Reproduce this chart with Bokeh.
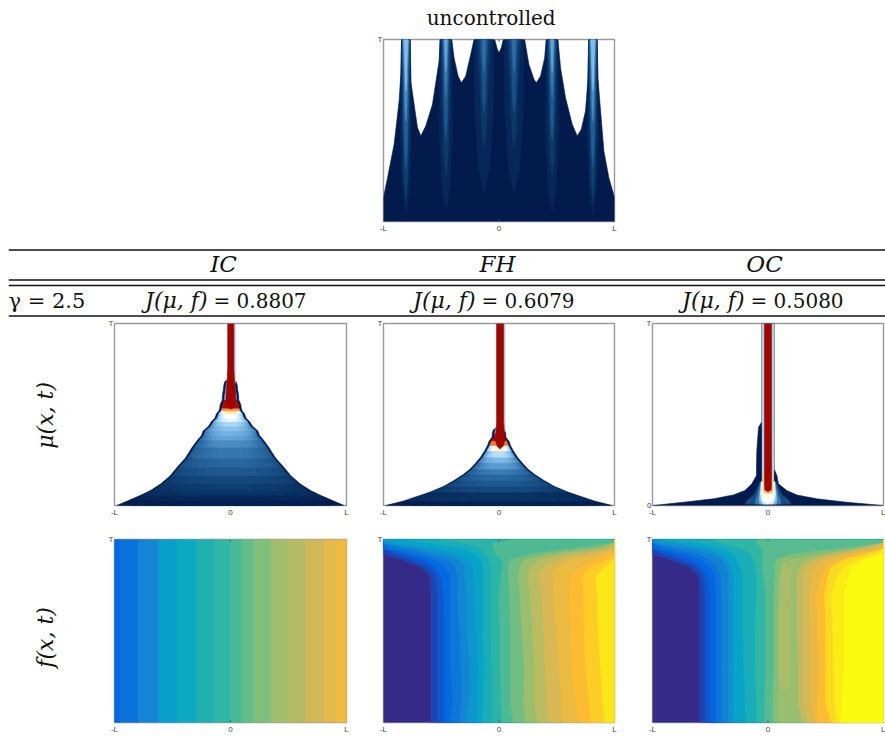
import numpy as np
from bokeh.core.properties import value
from bokeh.embed import file_html
from bokeh.layouts import column, row
from bokeh.models import ColumnDataSource, FixedTicker, LinearColorMapper, Range1d, Spacer
from bokeh.plotting import figure
from bokeh.resources import INLINE

# ---------- text ----------
TITLE = "uncontrolled"
METHODS = ["IC", "FH", "OC"]
COSTS = ["0.8807", "0.6079", "0.5080"]
GAMMA = "γ = 2.5"
X_TICKS = [-1, 0, 1]
X_LABELS = ["-L", "0", "L"]

# ---------- uncontrolled density: envelope and flames ----------
ENV_X = [-1,-1,-.965,-.908,-.865,-.85,-.844,-.769,-.764,-.735,-.706,-.677,-.634,-.576,-.519,-.51,-.409,-.389,-.354,-.326,-.288,-.245,-.216,-.037,-.014,0,.02,.037,.222,.259,.303,.323,.36,.395,.409,.51,.533,.576,.634,.677,.712,.749,.769,.778,.85,.856,.908,.951,1,1]
ENV_Y = [0,.132,.241,.424,.662,.808,1,1,.771,.644,.516,.47,.525,.644,.881,1,1,.899,.799,.762,.799,.918,1,1,.945,.927,.954,1,1,.863,.781,.762,.799,.899,1,1,.845,.68,.534,.47,.506,.607,.771,1,1,.79,.388,.241,.132,0]
STEM_CENTRES = [-.806, -.46, -.13, .13, .46, .813]
STEM_KIND = [0, 1, 2, 2, 1, 0]
# per stem kind: level, base y, mid y, half width at mid, half width at top
FLAME_LEVEL = [[.05,.13,.24,.37,.48],[.05,.12,.22,.32,.42],[.05,.11,.2,.3]]
FLAME_BASE = [[.03,.12,.3,.55,.72],[.05,.25,.45,.68,.82],[.15,.4,.6,.82]]
FLAME_MID = [[.5,.5,.6,.8,.9],[.5,.6,.75,.9,.95],[.6,.75,.85,.95]]
FLAME_WMID = [[.05,.028,.02,.014,.011],[.06,.03,.02,.014,.01],[.08,.036,.022,.013]]
FLAME_WTOP = [[.037,.034,.03,.024,.018],[.05,.04,.03,.02,.012],[.085,.06,.035,.015]]

# ---------- IC and FH density: outline half widths and level along t ----------
IC_Y = [0,.027,.055,.082,.119,.164,.21,.26,.32,.36,.385,.41,.435,.46,.48,.505,.52,.535,.555,.58,.605,.635,.66,.68,.69]
IC_W = [.98,.88,.78,.69,.60,.52,.46,.39,.33,.284,.25,.236,.19,.166,.135,.12,.1,.093,.089,.071,.07,.062,.058,.05,.03]
IC_L = [.02,.05,.1,.13,.17,.22,.27,.32,.37,.42,.45,.49,.54,.62,.65,.72,.8,.95,.95,.58,.58,.58,.58,.58,.58]
IC_STEM_Y = [.53,.54,.57,.63,.7,.76,1]
IC_STEM_W = [0,.03,.043,.04,.03,.026,.026]
FH_Y = [0,.024,.073,.105,.137,.17,.2,.235,.265,.3,.33,.355,.375,.395,.415,.425]
FH_W = [.98,.83,.6,.48,.39,.31,.25,.20,.16,.125,.10,.085,.06,.058,.05,.03]
FH_L = [.03,.09,.17,.22,.27,.33,.4,.47,.56,.68,.82,.95,.95,.58,.58,.58]
FH_STEM_Y = [.31,.325,.36,.41,.46,1]
FH_STEM_W = [0,.025,.042,.036,.03,.03]
TIER_SCALE = [1, .9, .78, .64, .48, .3]
TIER_LEVEL = [.74, .82, .89, .94, .98, 1]

# ---------- OC density ----------
OC_Y = [0,.018,.037,.058,.082,.119,.165,.2,.3,.43,.46,1]
OC_WL = [.995,.73,.47,.30,.2,.14,.10,.10,.097,.082,.053,.053]
OC_WR = [.995,.68,.42,.25,.163,.09,.077,.053,.053,.053,.053,.053]
OC_GLOW_Y = [.008,.03,.06,.10,.13]
OC_GLOW_L = [.18,.32,.46,.6,.66]
OC_GLOW_W = [[.2,.18,.12,.09,.07],[.11,.11,.09,.075,.06],[.07,.08,.075,.065,.06],[.04,.06,.065,.06,.055],[0,.045,.055,.055,.055]]
OC_HALO = [.13, 1, .053]
OC_EDGE_Y = [.065,.07,.09,.13,.2]
OC_EDGE_W = [0,.036,.044,.042,.034]
OC_RED_Y = [.075,.085,.12,1]
OC_RED_W = [0,.027,.03,.03]

# ---------- control: contour positions ----------
F_IC_EDGES = [-1,-.95,-.79,-.62,-.46,-.29,-.14,0,.10,.20,.35,.49,.65,.81,.92,1]
F_IC_LEVEL = [.14,.18,.25,.34,.39,.44,.48,.52,.56,.60,.65,.69,.74,.79,.83]
F_Y = [0,.1,.3,.5,.7,.8,.85,.89,.92,.95,.98,1]
F_LEVELS_FH = [.06,.10,.15,.20,.25,.31,.36,.42,.47,.53,.58,.64,.70,.76,.82,.87,.91,.96]
F_FH = [
 [-.59,-.59,-.59,-.59,-.59,-.60,-.68,-.85,-1,-1,-1,-1],
 [-.53,-.53,-.53,-.53,-.53,-.55,-.62,-.76,-.9,-1,-1,-1],
 [-.47,-.47,-.47,-.47,-.48,-.50,-.56,-.65,-.8,-1,-1,-1],
 [-.42,-.40,-.42,-.42,-.42,-.42,-.46,-.55,-.7,-.95,-1,-1],
 [-.34,-.33,-.33,-.34,-.36,-.36,-.38,-.45,-.6,-.8,-1,-1],
 [-.29,-.26,-.25,-.28,-.28,-.30,-.30,-.35,-.48,-.7,-1,-1],
 [-.20,-.19,-.18,-.20,-.21,-.22,-.23,-.27,-.35,-.55,-.9,-1],
 [-.15,-.14,-.13,-.14,-.14,-.14,-.14,-.15,-.2,-.3,-.6,-.8],
 [-.06,-.06,-.06,-.07,-.07,-.07,-.07,-.08,-.12,-.14,-.3,-.5],
 [.03,.02,.01,.01,0,.02,.03,.03,-.03,-.05,-.05,.1],
 [.12,.10,.10,.10,.09,.08,.08,.10,.25,.6,1,1],
 [.23,.21,.22,.20,.18,.17,.18,.22,.4,.8,1,1],
 [.33,.31,.31,.29,.27,.25,.27,.35,.55,.9,1,1],
 [.44,.42,.40,.39,.37,.35,.38,.5,.72,1,1,1],
 [.55,.54,.52,.50,.47,.46,.50,.62,.85,1,1,1],
 [.70,.66,.63,.62,.61,.62,.70,.83,1,1,1,1],
 [.80,.78,.75,.74,.73,.72,.80,.95,1,1,1,1],
 [.92,.90,.88,.86,.85,.84,.92,1,1,1,1,1],
]
F_LEVELS_OC = [.06,.10,.14,.19,.24,.30,.36,.42,.48,.54,.60,.64,.71,.76,.81,.87,.93,.97,1]
F_OC = [
 [-.59,-.59,-.59,-.59,-.59,-.60,-.68,-.85,-1,-1,-1,-1],
 [-.54,-.54,-.54,-.54,-.54,-.56,-.62,-.76,-.9,-1,-1,-1],
 [-.50,-.50,-.50,-.50,-.50,-.52,-.57,-.68,-.80,-1,-1,-1],
 [-.45,-.45,-.45,-.45,-.45,-.46,-.50,-.58,-.70,-.92,-1,-1],
 [-.40,-.40,-.40,-.40,-.40,-.41,-.44,-.5,-.6,-.8,-1,-1],
 [-.34,-.34,-.34,-.34,-.34,-.34,-.36,-.40,-.48,-.65,-.95,-1],
 [-.30,-.30,-.30,-.30,-.30,-.30,-.32,-.35,-.40,-.52,-.80,-1],
 [-.19,-.2,-.21,-.22,-.22,-.22,-.24,-.27,-.3,-.38,-.6,-.9],
 [-.10,-.10,-.11,-.11,-.10,-.10,-.11,-.13,-.15,-.22,-.4,-.5],
 [-.03,-.03,-.02,-.02,-.02,-.04,-.05,-.05,-.05,-.05,-.1,-.1],
 [.04,.04,.05,.05,.05,.06,.06,.07,.2,.6,1,1],
 [.09,.09,.09,.10,.10,.10,.12,.18,.45,.8,1,1],
 [.30,.26,.26,.25,.25,.25,.27,.35,.52,.78,1,1],
 [.35,.31,.31,.31,.31,.31,.33,.42,.6,.85,1,1],
 [.40,.37,.37,.37,.36,.38,.40,.5,.68,.95,1,1],
 [.43,.43,.44,.43,.42,.47,.5,.6,.78,1,1,1],
 [.55,.50,.50,.50,.49,.52,.55,.66,.85,1,1,1],
 [.60,.58,.57,.56,.55,.60,.66,.78,.95,1,1,1],
 [.63,.64,.66,.66,.66,.70,.74,.84,1,1,1,1],
]
PEN_X = [.10,.09,.09,.10,.12,.14,.18,.22,.20,.19,.19,.18,.16]
PEN_Y = [.18,.4,.6,.75,.85,.9,.82,.9,.78,.6,.4,.2,.18]
PEN_LEVEL = .67

BLUE_ANCHORS = [(0,"#021a4c"),(.1,"#0a3566"),(.2,"#1a5288"),(.3,"#2f6fa8"),(.4,"#5b9bd0"),(.5,"#8cc6ee"),(.58,"#c5e5f8"),(.65,"#ffffff"),(.72,"#ffeaa0"),(.78,"#fbb050"),(.85,"#e85020"),(.92,"#b81008"),(1,"#9c0800")]
PARULA_ANCHORS = [(0,"#352a87"),(.125,"#0363e1"),(.25,"#1485d4"),(.375,"#06a7c6"),(.5,"#38b99e"),(.625,"#92bf73"),(.75,"#d5b857"),(.875,"#fdbb30"),(1,"#f9fb0e")]
HALO_COLOR = "#b4cde2"

def palette(anchors, n=256):
    t = [a[0] for a in anchors]
    rgb = np.array([[int(a[1][i:i+2], 16) for i in (1, 3, 5)] for a in anchors])
    s = np.linspace(0, 1, n)
    return ["#%02x%02x%02x" % tuple(int(round(np.interp(v, t, rgb[:, c]))) for c in range(3)) for v in s]

BLUE = LinearColorMapper(palette=palette(BLUE_ANCHORS), low=0, high=1)
PARULA = LinearColorMapper(palette=palette(PARULA_ANCHORS), low=0, high=1)

def panel(w, h, left, right, top, bottom, y_ticks=(1,), y_labels=("T",)):
    p = figure(frame_width=w, frame_height=h, min_border_left=left, min_border_right=right,
               min_border_top=top, min_border_bottom=bottom, toolbar_location=None,
               output_backend="svg", x_range=Range1d(-1, 1), y_range=Range1d(0, 1))
    p.grid.visible = False
    p.outline_line_color = "#9a9a9a"
    p.outline_line_width = 1.4
    p.background_fill_color = "white"
    for ax, ticks, labels in ((p.xaxis[0], X_TICKS, X_LABELS), (p.yaxis[0], y_ticks, y_labels)):
        ax.ticker = FixedTicker(ticks=list(ticks))
        ax.major_label_overrides = dict(zip(ticks, labels))
        ax.minor_tick_line_color = None
        ax.axis_line_color = None
        ax.major_tick_in = 0
        ax.major_tick_out = 0
        ax.major_label_standoff = 2
        ax.major_label_text_font = "Liberation Sans"
        ax.major_label_text_font_size = "8px"
        ax.major_label_text_color = "#444444"
    p.yaxis[0].major_label_standoff = 1
    return p

def strip(x0, x1, y0, y1):
    """A bare figure whose data units are page pixels, for the texts and rules around the panels."""
    s = figure(width=x1 - x0, height=y1 - y0, toolbar_location=None, output_backend="svg",
               x_range=Range1d(x0, x1), y_range=Range1d(y1, y0), min_border=0)
    s.axis.visible = False
    s.grid.visible = False
    s.outline_line_color = None
    return s

def side_strip(text, y_mid, y0, y1):
    s = strip(8, 98, y0, y1)
    s.text(x=[45], y=[y_mid], text=[text], angle=[np.pi / 2], text_font=value("DejaVu Serif"),
           text_font_style="italic", text_font_size="22px", text_align="center", text_baseline="middle",
           text_color="#111111")
    return s

def add_tick_marks(p):
    p.segment(x0=[0, 0], x1=[0, 0], y0=[0, 1], y1=[.012, .988], line_color="#555555", line_width=1)

def draw_layers(p, xs, ys, levels, mapper):
    src = ColumnDataSource(dict(xs=xs, ys=ys, level=levels))
    spec = {"field": "level", "transform": mapper}
    p.patches("xs", "ys", source=src, fill_color=spec, line_color=spec, line_width=.6)

def sym_poly(y, wl, wr, c=0.0):
    xs = [c - v for v in wl] + [c + v for v in reversed(wr)]
    ys = list(y) + list(reversed(y))
    return xs, ys

def flames(p):
    xs, ys, lv = [], [], []
    for c, k in zip(STEM_CENTRES, STEM_KIND):
        for i, level in enumerate(FLAME_LEVEL[k]):
            b0, m0 = FLAME_BASE[k][i], FLAME_MID[k][i]
            y = [b0, b0 + (m0 - b0) * .3, m0, 1]
            w = [0, FLAME_WMID[k][i] * .6, FLAME_WMID[k][i], FLAME_WTOP[k][i]]
            a, b = sym_poly(y, w, w, c)
            xs.append(a); ys.append(b); lv.append(level)
    order = np.argsort(lv)
    draw_layers(p, [xs[i] for i in order], [ys[i] for i in order], [lv[i] for i in order], BLUE)

def mu_rows(p, y, w, levels, stem_y, stem_w, c):
    a, b = sym_poly(y, w, w)
    draw_layers(p, [a], [b], [0.0], BLUE)
    inset = .02
    xs, ys, lv = [], [], []
    for s, f in zip(TIER_SCALE, TIER_LEVEL):
        for i in range(len(y) - 1):
            w0 = max(w[i] - inset, 0) * s
            w1 = max(w[i + 1] - inset, 0) * s
            xs.append([-w0, w0, w1, -w1]); ys.append([y[i], y[i], y[i + 1], y[i + 1]])
            lv.append(levels[i] * f if levels[i] < .8 else levels[i])
    draw_layers(p, xs, ys, lv, BLUE)
    halo_w = max(stem_w[-1] + .012, .036)
    p.quad(left=[c - halo_w + .004], right=[c + halo_w + .004], bottom=[y[-1] - .02], top=[1], fill_color=HALO_COLOR, line_color=None)
    a, b = sym_poly(stem_y, stem_w, stem_w, c)
    draw_layers(p, [a], [b], [1.0], BLUE)

def mu_oc(p):
    a, b = sym_poly(OC_Y, OC_WL, OC_WR)
    draw_layers(p, [a], [b], [0.0], BLUE)
    xs, ys = [], []
    for w in OC_GLOW_W:
        a, b = sym_poly(OC_GLOW_Y, w, w)
        xs.append(a); ys.append(b)
    draw_layers(p, xs, ys, OC_GLOW_L, BLUE)
    p.quad(left=[-OC_HALO[2]], right=[OC_HALO[2]], bottom=[OC_HALO[0]], top=[OC_HALO[1]], fill_color=HALO_COLOR, line_color=None)
    a, b = sym_poly(OC_EDGE_Y, OC_EDGE_W, OC_EDGE_W)
    c, d = sym_poly(OC_RED_Y, OC_RED_W, OC_RED_W)
    draw_layers(p, [a, c], [b, d], [.76, 1.0], BLUE)

def contours(p, table, levels, y_rows):
    xs, ys = [[-1, 1, 1, -1]], [[0, 0, 1, 1]]
    lv = [0.0]
    for row_x, level in zip(table, levels):
        xs.append(list(row_x) + [1, 1])
        ys.append(list(y_rows) + [1, 0])
        lv.append(level)
    draw_layers(p, xs, ys, lv, PARULA)

# ---------- uncontrolled ----------
title_strip = strip(8, 885, 1, 34)
title_strip.text(x=[490.7], y=[17], text=[TITLE], text_font=value("DejaVu Serif"), text_font_size="20px",
                 text_align="center", text_baseline="middle", text_color="#111111")
top = panel(231, 182, 25, 19, 5, 19)
draw_layers(top, [ENV_X], [ENV_Y], [0.0], BLUE)
flames(top)
first_row = row(Spacer(width=350, height=206), top)

# ---------- table header ----------
head = strip(8, 885, 240, 318)
RULES_Y = [249.5, 279.5, 285, 315.5]
head.segment(x0=[8] * 4, x1=[885] * 4, y0=RULES_Y, y1=RULES_Y, line_color="#111111", line_width=1.4)
HEAD_X = [223, 497, 764]
head.text(x=HEAD_X, y=[263] * 3, text=METHODS, text_font=value("DejaVu Serif"), text_font_style="italic",
          text_font_size="23px", text_align="center", text_baseline="middle", text_color="#111111")
JOIN_X = [207, 475, 744]
head.text(x=JOIN_X, y=[300] * 3, text=["J(μ, f)"] * 3, text_font=value("DejaVu Serif"), text_font_style="italic",
          text_font_size="22px", text_align="right", text_baseline="middle", text_color="#111111")
head.text(x=[v + 6 for v in JOIN_X], y=[300] * 3, text=["= " + c for c in COSTS], text_font=value("DejaVu Serif"),
          text_font_size="20px", text_align="left", text_baseline="middle", text_color="#111111")
head.text(x=[8], y=[300], text=[GAMMA], text_font=value("DejaVu Serif"), text_font_size="21px",
          text_align="left", text_baseline="middle", text_color="#111111")

# ---------- density row ----------
s1 = side_strip("μ(x, t)", 422, 318, 524)
m1 = panel(232, 182, 16, 19, 5, 19)
mu_rows(m1, IC_Y, IC_W, IC_L, IC_STEM_Y, IC_STEM_W, .003)
m2 = panel(231, 182, 18, 19, 5, 19)
mu_rows(m2, FH_Y, FH_W, FH_L, FH_STEM_Y, FH_STEM_W, .01)
m3 = panel(231, 182, 19, 2, 5, 19, y_ticks=(0, 1), y_labels=("0", "T"))
mu_oc(m3)

# ---------- control row ----------
s2 = side_strip("f(x, t)", 638, 524, 737)
f1 = panel(232, 183, 16, 19, 15, 15)
f1.quad(left="left", right="right", bottom=0, top=1,
        fill_color={"field": "level", "transform": PARULA}, line_color={"field": "level", "transform": PARULA},
        source=ColumnDataSource(dict(left=F_IC_EDGES[:-1], right=F_IC_EDGES[1:], level=F_IC_LEVEL)))
f2 = panel(231, 183, 18, 19, 15, 15)
contours(f2, F_FH, F_LEVELS_FH, F_Y)
f3 = panel(231, 183, 19, 2, 15, 15)
contours(f3, F_OC, F_LEVELS_OC, F_Y)
draw_layers(f3, [PEN_X], [PEN_Y], [PEN_LEVEL], PARULA)
for p in (top, f1, f2, f3):
    add_tick_marks(p)

body = column(title_strip, first_row, head, row(s1, m1, m2, m3), row(s2, f1, f2, f3), spacing=0)
page = row(Spacer(width=8, height=10), column(Spacer(width=10, height=1), body))
open("out.html", "w").write(file_html(page, INLINE))
